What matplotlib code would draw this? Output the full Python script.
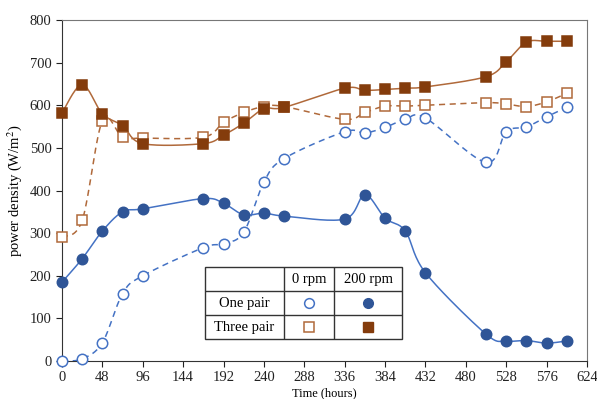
import numpy as np
import matplotlib
matplotlib.use("Agg")
import matplotlib.pyplot as plt

plt.rcParams['font.family'] = ['Liberation Serif', 'DejaVu Serif']
plt.rcParams['mathtext.fontset'] = 'stix'

hours = [0, 24, 48, 72, 96, 168, 192, 216, 240, 264, 336, 360, 384, 408, 432, 504, 528, 552, 576, 600]
one_pair_0rpm = [0, 5, 43, 158, 200, 266, 275, 302, 420, 475, 538, 535, 548, 567, 570, 466, 538, 549, 573, 595]
one_pair_200rpm = [185, 240, 305, 350, 357, 381, 370, 343, 347, 340, 333, 390, 335, 305, 207, 63, 47, 48, 42, 47]
three_pair_0rpm = [290, 330, 563, 525, 523, 525, 560, 583, 597, 597, 567, 583, 598, 598, 600, 606, 603, 597, 608, 628]
three_pair_200rpm = [582, 648, 580, 552, 510, 510, 530, 558, 592, 595, 640, 635, 637, 640, 643, 667, 702, 748, 750, 750]

x_ticks = [0, 48, 96, 144, 192, 240, 288, 336, 384, 432, 480, 528, 576, 624]
y_ticks = [0, 100, 200, 300, 400, 500, 600, 700, 800]
col_labels = ['0 rpm', '200 rpm']
row_labels = ['One pair', 'Three pair']

BLUE_F = '#2F5597'
BLUE_L = '#4472C4'
BROWN_F = '#843C0C'
BROWN_L = '#B0693A'


def smooth(x, y, n=20):
    x = np.asarray(x, float); y = np.asarray(y, float)
    P = np.column_stack([x, y])
    out = [P[0]]
    for i in range(len(P) - 1):
        p0 = P[i - 1] if i > 0 else P[i]
        p1 = P[i]; p2 = P[i + 1]
        p3 = P[i + 2] if i + 2 < len(P) else P[i + 1]
        c1 = p1 + (p2 - p0) / 6.0
        c2 = p2 - (p3 - p1) / 6.0
        t = np.linspace(0, 1, n)[1:, None]
        seg = (1 - t) ** 3 * p1 + 3 * (1 - t) ** 2 * t * c1 + 3 * (1 - t) * t ** 2 * c2 + t ** 3 * p2
        out.extend(seg)
    out = np.array(out)
    return out[:, 0], out[:, 1]


fig = plt.figure(figsize=(5.97, 3.99), dpi=100)
W, H = 597, 399
L, R, T, B = 62, 587, 20, 361
ax = fig.add_axes([L / W, 1 - B / H, (R - L) / W, (B - T) / H])

series = [
    (three_pair_0rpm, BROWN_L, (0, (4, 3)), 's', 'white', BROWN_L),
    (one_pair_0rpm, BLUE_L, (0, (4, 3)), 'o', 'white', BLUE_L),
    (one_pair_200rpm, BLUE_L, '-', 'o', BLUE_F, BLUE_F),
    (three_pair_200rpm, BROWN_L, '-', 's', BROWN_F, BROWN_F),
]
for ys, lc, ls, mk, mfc, mec in series:
    sx, sy = smooth(hours, ys)
    ax.plot(sx, sy, color=lc, ls=ls, lw=1.1, zorder=2, clip_on=False)
    ax.plot(hours, ys, ls='none', marker=mk, ms=7.5,
            mfc=mfc, mec=mec, mew=1.1, zorder=3, clip_on=False)

ax.set_xlim(0, 624)
ax.set_ylim(0, 800)
ax.set_xticks(x_ticks)
ax.set_yticks(y_ticks)
ax.tick_params(direction='out', length=4, labelsize=10.5, colors='#222222')
for s in ['top', 'right']:
    ax.spines[s].set_color('#777777')
for s in ['left', 'bottom']:
    ax.spines[s].set_color('#333333')
ax.set_xlabel('Time (hours)', fontsize=9, labelpad=2)
ax.set_ylabel('power density (W/m$^2$)', fontsize=10.5, labelpad=4)

# table legend
tx0, tx1, tx2, tx3 = 205, 284, 334, 402
ty0, ty1, ty2, ty3 = 267, 291, 315, 339
tax = fig.add_axes([tx0 / W, 1 - ty3 / H, (tx3 - tx0) / W, (ty3 - ty0) / H])
tax.set_xlim(tx0, tx3)
tax.set_ylim(ty3, ty0)
tax.axis('off')
tax.add_patch(plt.Rectangle((tx0, ty0), tx3 - tx0, ty3 - ty0, fc='white', ec='#333333', lw=1.0, clip_on=False))
for xv in [tx1, tx2]:
    tax.plot([xv, xv], [ty0, ty3], color='#333333', lw=1.0)
for yv in [ty1, ty2]:
    tax.plot([tx0, tx3], [yv, yv], color='#333333', lw=1.0)
colc = [(tx1 + tx2) / 2, (tx2 + tx3) / 2]
rowc = [(ty1 + ty2) / 2, (ty2 + ty3) / 2]
for c, lab in zip(colc, col_labels):
    tax.text(c, (ty0 + ty1) / 2, lab, ha='center', va='center', fontsize=10.5)
for r, lab in zip(rowc, row_labels):
    tax.text((tx0 + tx1) / 2, r, lab, ha='center', va='center', fontsize=10.5)
tax.plot(colc[0], rowc[0], marker='o', ms=7, mfc='white', mec=BLUE_L, mew=1.1)
tax.plot(colc[1], rowc[0], marker='o', ms=7, mfc=BLUE_F, mec=BLUE_F)
tax.plot(colc[0], rowc[1], marker='s', ms=6.5, mfc='white', mec=BROWN_L, mew=1.1)
tax.plot(colc[1], rowc[1], marker='s', ms=6.5, mfc=BROWN_F, mec=BROWN_F)

fig.savefig('out.png', dpi=100)
